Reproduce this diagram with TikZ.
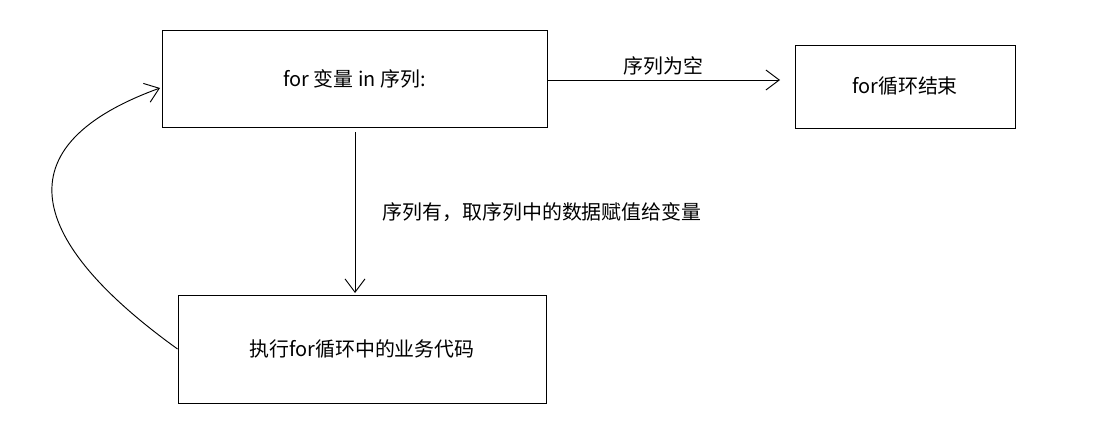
\documentclass[tikz,border=0pt]{standalone}
\usepackage{fontspec}
\setmainfont{Noto Sans CJK SC}
\usetikzlibrary{positioning}
\usetikzlibrary{arrows.meta}
\tikzset{
  box/.style={draw, thick, inner sep=0pt},
  flow/.style={->, thick, >={Straight Barb[length=4mm, width=6mm]}},
  txt/.style={font=\fontsize{17}{20}\selectfont}
}
\begin{document}
\begin{tikzpicture}[x=0.03cm,y=-0.03cm]
    \useasboundingbox (0,0) rectangle (1103,424);
    % boxes
    \node[box, txt, minimum width=385*0.03cm, minimum height=97*0.03cm] (loop) at (354.5,78.5) {for 变量 in 序列:};
    \node[box, txt, minimum width=220*0.03cm, minimum height=83*0.03cm] (done) at (905,86.5) {for循环结束};
    \node[box, txt, minimum width=368*0.03cm, minimum height=108*0.03cm] (body) at (362,349) {执行for循环中的业务代码};

    % connectors
    \draw[flow] (loop.east |- 0,80) -- node[above, txt] {序列为空} (780,80);
    \draw[flow] (355,132) -- node[right=20pt, txt, pos=0.5] {序列有，取序列中的数据赋值给变量} (355,293);
    \draw[flow] (body.west) .. controls (40,250) and (-10,150) .. (160,88);
\end{tikzpicture}
\end{document}
